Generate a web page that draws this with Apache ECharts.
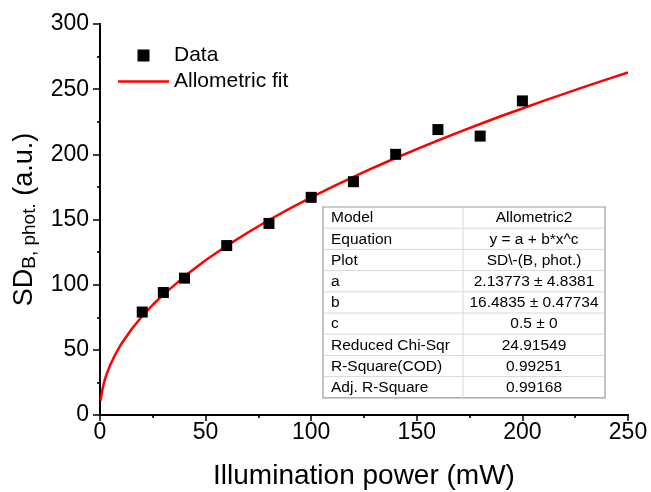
<!DOCTYPE html>
<html>
<head>
<meta charset="utf-8">
<script src="https://cdn.jsdelivr.net/npm/echarts@6/dist/echarts.min.js"></script>
<style>
  html, body { margin: 0; padding: 0; background: #fff; }
  #chart { width: 651px; height: 492px; }
</style>
</head>
<body>
<div id="chart"></div>
<script>
// measured points
const powerX = [20, 30, 40, 60, 80, 100, 120, 140, 160, 180, 200];
const sdY = [79, 94, 105, 130, 147, 167, 179, 200, 219, 214, 241];

// fit curve
const fitX = [0.3, 1, 2, 3, 5, 7, 10, 15, 20, 25, 30, 40, 50, 60, 70, 80, 90, 100, 110, 120, 130, 140, 150,
  160, 170, 180, 190, 200, 210, 220, 230, 240, 250];
const fitY = [11, 18.6, 25.5, 30.7, 39, 45.7, 54.3, 66, 75.9, 84.6, 92.4, 106.4, 118.7, 129.8, 140, 149.6,
  158.5, 167, 175, 182.7, 190.1, 197.2, 204, 210.6, 217.1, 223.3, 229.4, 235.2, 241, 246.6, 252.1, 257.5, 262.8];

// fit result table
const tableLabels = ['Model', 'Equation', 'Plot', 'a', 'b', 'c', 'Reduced Chi-Sqr', 'R-Square(COD)', 'Adj. R-Square'];
const tableValues = ['Allometric2', 'y = a + b*x^c', 'SD\\-(B, phot.)', '2.13773 \u00b1 4.8381', '16.4835 \u00b1 0.47734', '0.5 \u00b1 0', '24.91549', '0.99251', '0.99168'];

const font = 'Arial, "Liberation Sans", sans-serif';

// table graphic
const tLeft = 323, tTop = 207, tW = 282, rowH = 21.2, colX = 463;
const tableEls = [];
tableEls.push({ type: 'rect', shape: { x: tLeft, y: tTop, width: tW, height: rowH * tableLabels.length },
  style: { fill: '#fff', stroke: '#999', lineWidth: 1.2 }, z: 10 });
for (let i = 1; i < tableLabels.length; i++) {
  tableEls.push({ type: 'line', shape: { x1: tLeft, y1: tTop + rowH * i, x2: tLeft + tW, y2: tTop + rowH * i },
    style: { stroke: '#d8d8d8', lineWidth: 1 }, z: 11 });
}
tableEls.push({ type: 'line', shape: { x1: colX, y1: tTop, x2: colX, y2: tTop + rowH * tableLabels.length },
  style: { stroke: '#d8d8d8', lineWidth: 1 }, z: 11 });
tableLabels.forEach((t, i) => {
  tableEls.push({ type: 'text', x: tLeft + 8, y: tTop + rowH * i + rowH / 2 + 0.5, z: 12,
    style: { text: t, font: '15.5px ' + font, fill: '#000', verticalAlign: 'middle', align: 'left' } });
  tableEls.push({ type: 'text', x: (colX + tLeft + tW) / 2, y: tTop + rowH * i + rowH / 2 + 0.5, z: 12,
    style: { text: tableValues[i], font: '15.5px ' + font, fill: '#000', verticalAlign: 'middle', align: 'center' } });
});

const chart = echarts.init(document.getElementById('chart'));
chart.setOption({
  animation: false,
  backgroundColor: '#fff',
  grid: { left: 100, right: 23, top: 24, bottom: 77, outerBoundsMode: 'none' },
  legend: {
    orient: 'vertical', left: 118, top: 45, padding: 0, itemWidth: 51, itemHeight: 12, itemGap: 5,
    textStyle: { fontSize: 21, color: '#000', fontFamily: font },
    data: [
      { name: 'Data', icon: 'path://M0,0h10v10h-10z', itemStyle: { color: '#000', opacity: 1 } },
      { name: 'Allometric fit', icon: 'path://M0,0h51v2.5h-51z', itemStyle: { color: '#ff0000' } }
    ]
  },
  xAxis: [{
    type: 'value', min: 0, max: 250, interval: 50,
    name: 'Illumination power (mW)', nameLocation: 'middle', nameGap: 47,
    nameTextStyle: { fontSize: 28, color: '#000', fontFamily: font },
    axisLine: { lineStyle: { color: '#000', width: 2 } },
    axisTick: { length: 6, lineStyle: { width: 1.5, color: '#000' } },
    minorTick: { show: true, splitNumber: 2, length: 3, lineStyle: { color: '#000', width: 1.5 } },
    axisLabel: { fontSize: 23, color: '#000', fontFamily: font, margin: 6 },
    splitLine: { show: false }
  }, {
    type: 'value', position: 'top', min: 0, max: 250, interval: 50,
    axisLine: { lineStyle: { color: '#000', width: 2 } },
    axisTick: { inside: true, length: 3, lineStyle: { width: 1.5, color: '#000' } },
    minorTick: { show: true, splitNumber: 2, length: 2, lineStyle: { color: '#000' } },
    axisLabel: { show: false }, splitLine: { show: false }
  }],
  yAxis: [{
    type: 'value', min: 0, max: 300, interval: 50,
    name: '{a|SD}{b|B, phot.}{a| (a.u.)}', nameLocation: 'middle', nameGap: 58,
    nameTextStyle: {
      color: '#000', fontFamily: font,
      rich: {
        a: { fontSize: 27, color: '#000', fontFamily: font },
        b: { fontSize: 19, color: '#000', fontFamily: font, padding: [12, 0, 0, 0] }
      }
    },
    axisLine: { lineStyle: { color: '#000', width: 2 } },
    axisTick: { length: 7, lineStyle: { width: 1.5, color: '#000' } },
    minorTick: { show: true, splitNumber: 2, length: 3, lineStyle: { color: '#000', width: 1.5 } },
    axisLabel: { fontSize: 23, color: '#000', fontFamily: font, margin: 11 },
    splitLine: { show: false }
  }, {
    type: 'value', position: 'right', min: 0, max: 300, interval: 50,
    axisLine: { lineStyle: { color: '#000', width: 2 } },
    axisTick: { inside: true, length: 3, lineStyle: { width: 1.5, color: '#000' } },
    minorTick: { show: true, splitNumber: 2, length: 2, lineStyle: { color: '#000' } },
    axisLabel: { show: false }, splitLine: { show: false }
  }],
  series: [{
    name: 'Allometric fit', type: 'line', smooth: false,
    symbol: 'none', data: fitX.map((x, i) => [x, fitY[i]]),
    lineStyle: { color: '#ff0000', width: 2.5 }, itemStyle: { color: '#ff0000' }, z: 2
  }, {
    name: 'Data', type: 'scatter', symbol: 'rect', symbolSize: 11,
    data: powerX.map((x, i) => [x, sdY[i]]),
    itemStyle: { color: '#000', opacity: 1 }, z: 3
  }],
  graphic: tableEls
});
</script>
</body>
</html>
